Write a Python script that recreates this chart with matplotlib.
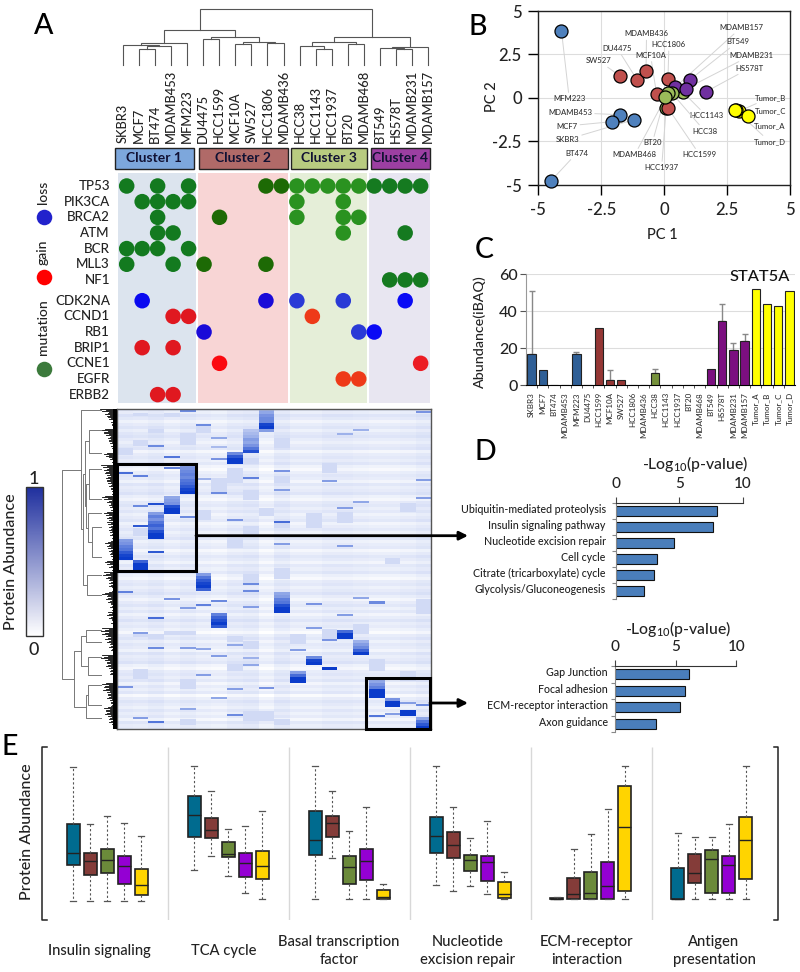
import numpy as np
import matplotlib
matplotlib.use('Agg')
import matplotlib.pyplot as plt
from matplotlib.colors import LinearSegmentedColormap
from matplotlib.cm import ScalarMappable
from matplotlib.patches import Rectangle

plt.rcParams['font.family'] = ['Lato', 'DejaVu Sans']
plt.rcParams['font.weight'] = 'medium'
plt.rcParams['mathtext.default'] = 'regular'

W, H = 800, 972
TXT = '#222222'

# panel A
cell_lines = ['SKBR3', 'MCF7', 'BT474', 'MDAMB453', 'MFM223', 'DU4475', 'HCC1599', 'MCF10A', 'SW527', 'HCC1806',
              'MDAMB436', 'HCC38', 'HCC1143', 'HCC1937', 'BT20', 'MDAMB468', 'BT549', 'HS578T', 'MDAMB231', 'MDAMB157']
cluster_names = ['Cluster 1', 'Cluster 2', 'Cluster 3', 'Cluster 4']
cluster_of_col = [0] * 5 + [1] * 6 + [2] * 5 + [3] * 4
mutation_genes = ['TP53', 'PIK3CA', 'BRCA2', 'ATM', 'BCR', 'MLL3', 'NF1']
cna_genes = ['CDK2NA', 'CCND1', 'RB1', 'BRIP1', 'CCNE1', 'EGFR', 'ERBB2']
mutated_cols = [[0, 2, 4, 9, 10, 11, 12, 13, 14, 15, 16, 17, 18, 19],
                [1, 2, 3, 4, 11, 14],
                [2, 6, 11, 14, 15],
                [2, 3, 14, 18],
                [0, 1, 2, 4],
                [0, 3, 5, 9],
                [17, 18, 19]]
cna_cols = [[1, 9, 11, 14, 18], [3, 4, 12], [5, 15, 16], [1, 3], [6, 19], [14, 15], [2, 3]]
cna_kind = ['loss', 'gain', 'loss', 'gain', 'gain', 'gain', 'gain']

# top dendrogram: (height, left, right), a plain int is a leaf
top_tree = (167,
            (105,
             (65, (59, 0, (56, (47, 1, 2), 3)), 4),
             (83, (77, 5, 6), (68, (63, 7, 8), (65, 9, 10)))),
            (85,
             (68, (56, 11, (49, 12, 13)), (62, 14, 15)),
             (55, (51, 16, (49, 17, 18)), 19)))

# left dendrogram, leaves are heatmap rows
side_upper = (36.5, 1, (34, (32.5, (28, 21, 44), (31, (28, 60, 90), (29, 104, (25, 118, 148)))), (30, 166, 186)))
side_lower = (43, (36, (31, 221, 233), (29, 248, 266)), (31.5, (29, 276, 296), 309))
side_tree = (55, side_upper, side_lower)
comb_depth = [17, 13, 9, 6, 5, 16, 13, 10, 8, 6, 4, 14, 8, 5, 16, 14, 12, 12, 10, 8, 6, 5, 15, 11, 8, 6,
              13, 11, 10, 9, 8, 7, 5, 13, 10, 9, 7, 5, 12, 8, 5, 15, 11, 9, 8, 5, 15, 12, 9, 7, 5, 11, 8, 6, 4,
              17, 15, 13, 10, 8, 6, 5, 16, 14, 11, 9, 7, 5, 4, 17, 14, 12, 10, 8, 6, 15, 12, 10, 8, 6, 4]
comb_feather = [1, .62, .86, .5, .72, .94, .56, .8]

# heatmap, one row per pixel line of the picture
heat_base = [.12, .09, .14, .11, .06, .10, .13, .08, .12, .14, .10, .07, .11, .13, .05, .10, .12, .09, .13, .07,
             .04, .09, .12, .10, .06, .13, .09, .11, .14, .08, .05, .11, .13, .09, .12, .07, .10, .13, .06, .09,
             .12, .08, .11, .14, .07, .10, .12, .05, .09, .13, .10, .06, .12, .09, .13, .07, .04, .10, .12, .08,
             .11, .14, .09, .05, .10, .13, .08, .12, .06, .10, .14, .09, .11, .07, .03, .10, .13, .08, .12, .10,
             .06, .13, .09, .11, .14, .07, .04, .10, .12, .09, .13, .06, .11, .08, .12, .03, .09, .13, .10, .07,
             .12, .08, .11, .05, .13, .09, .10]
col_tint = [.01, .0, .02, -.01, .01, -.01, -.02, .01, .02, -.03, .02, -.01, -.01, .01, .01, .0, -.01, -.01, .0, .02]
heat_soft = [(1, 5, 8), (3, 5, 9), (2, 21, 25), (4, 25, 37), (1, 32, 38), (0, 42, 47), (5, 18, 25), (7, 60, 75),
             (8, 82, 92), (10, 30, 40), (10, 68, 75), (5, 102, 112), (10, 113, 120), (12, 105, 120), (14, 104, 115),
             (8, 118, 128), (1, 120, 128), (10, 160, 170), (8, 165, 175), (19, 190, 205), (4, 222, 226), (1, 224, 228),
             (3, 222, 226), (7, 227, 233), (8, 232, 240), (11, 225, 235), (13, 220, 232), (15, 215, 225), (2, 225, 230),
             (1, 260, 270), (4, 270, 280), (8, 302, 312), (9, 302, 312), (10, 310, 316), (4, 310, 316), (18, 262, 272),
             (0, 40, 46), (6, 70, 85), (3, 90, 96), (13, 55, 65), (18, 95, 104), (16, 250, 262), (7, 255, 262),
             (9, 100, 108), (7, 130, 140), (8, 50, 56), (17, 150, 156)]
heat_streak = [(4, 2, .6), (5, 16, .6), (0, 64, .75), (1, 67, .65), (3, 59, .65), (10, 62, .55), (8, 69, .65),
               (13, 72, .5), (5, 70, .4), (6, 84, .6), (10, 81, .5), (1, 97, .6), (2, 95, .9), (4, 108, .6),
               (1, 117, .85), (7, 111, .55), (10, 113, .75), (2, 143, .85), (10, 135, .5), (14, 137, .5), (3, 48, .7),
               (6, 50, .55), (2, 37, .6), (6, 29, .45), (19, 3, .55), (19, 71, .5), (19, 89, .5), (14, 99, .5),
               (15, 93, .45), (0, 182, .65), (8, 174, .6), (8, 181, .6), (3, 189, .55), (6, 191, .6), (5, 195, .65),
               (8, 197, .5), (16, 193, .6), (15, 188, .45), (2, 208, .75), (12, 218, .5), (2, 238, .6), (4, 238, .5),
               (5, 239, .45), (7, 235, .45), (13, 230, .55), (6, 246, .5), (5, 265, .5), (0, 277, .55), (1, 223, .5),
               (11, 240, .5), (8, 248, .4), (8, 255, .45), (7, 279, .5), (9, 278, .55), (6, 288, .45), (4, 299, .45),
               (7, 305, .6), (1, 308, .5), (2, 312, .7), (16, 306, .7), (17, 304, .5), (16, 192, .6), (4, 198, .5),
               (12, 194, .55), (14, 205, .5), (19, 295, .6), (18, 293, .5), (6, 38, .35), (14, 25, .4), (15, 21, .4)]
# (column, first row, levels going down, each level 3 rows)
heat_blocks = [(9, 0, [.35, .45, .55, .6, .6, .95, 1, .5]),
               (8, 21, [.3, .35, .4, .5, .45, .55, .7, .9]),
               (7, 44, [.6, .85, 1, 1]),
               (4, 56, [.5, .55, .6, .65, .6, .7, .75, .85, .95, 1]),
               (3, 88, [.45, .5, .55, .9, 1, 1]),
               (2, 104, [.5, .65, .55, .7, .8, .7, .9, 1, 1]),
               (0, 131, [.5, .55, .65, .7, .85, .95, 1]),
               (1, 152, [.8, 1, 1]),
               (5, 164, [.5, .7, .85, .95, 1, .8]),
               (10, 183, [.45, .5, .65, .7, .9, 1, 1]),
               (6, 204, [.65, .8, .9, 1, .85]),
               (14, 221, [.75, 1, 1]),
               (15, 231, [.4, .5, .6, .8, 1]),
               (12, 247, [.6, .95, 1]),
               (13, 258, [1]),
               (11, 262, [.5, .75, 1, 1]),
               (16, 271, [.45, .55, .65, 1, 1, 1]),
               (17, 289, [.55, 1, 1]),
               (18, 301, [1, 1]),
               (19, 308, [.45, .7, .85, 1])]

# panel B
pc_names = ['MFM223', 'BT474', 'MDAMB453', 'MCF7', 'SKBR3',
            'HCC1937', 'SW527', 'DU4475', 'MDAMB436', 'HCC1806', 'MCF10A', 'HCC1599',
            'HCC1143', 'MDAMB157', 'BT549', 'MDAMB231', 'HS578T', 'HCC38', 'MDAMB468', 'BT20',
            'Tumor_B', 'Tumor_D', 'Tumor_C', 'Tumor_A']
pc1 = [-4.08, -4.5, -1.74, -2.07, -1.21, 0.08, -1.74, -1.07, -0.72, 0.15, -0.3, 0.16, 0.73, 0.43, 1.01, 0.85, 1.66,
       0.3, 0.15, 0.03, 2.96, 2.84, 2.81, 3.33]
pc2 = [3.87, -4.77, -0.96, -1.36, -1.25, -0.6, 1.25, 1.03, 1.57, 1.09, 0.23, -0.59, 0.36, 0.61, 1.03, 0.52, 0.36,
       0.3, 0.27, 0.06, -0.77, -0.7, -0.69, -1.05]
pc_group = [0, 0, 0, 0, 0, 2, 1, 1, 1, 1, 1, 1, 2, 3, 3, 3, 3, 2, 2, 2, 4, 4, 4, 4]
pc_colors = ['#4f81bd', '#c0504d', '#9bbb59', '#7030a0', '#ffff00']
label_x = {'MDAMB157': 3.05, 'BT549': 2.91, 'MDAMB231': 3.45, 'HS578T': 3.4, 'MDAMB436': -0.7, 'HCC1806': 0.19,
           'DU4475': -1.86, 'MCF10A': -0.54, 'SW527': -2.59, 'Tumor_B': 4.22, 'Tumor_C': 4.22, 'Tumor_A': 4.18,
           'Tumor_D': 4.19, 'MFM223': -3.77, 'MDAMB453': -3.74, 'MCF7': -3.87, 'SKBR3': -3.85, 'BT474': -3.48,
           'HCC1143': 1.68, 'HCC38': 1.61, 'BT20': -0.47, 'MDAMB468': -1.17, 'HCC1599': 1.41, 'HCC1937': -0.1}
label_y = {'MDAMB157': 4.04, 'BT549': 3.22, 'MDAMB231': 2.45, 'HS578T': 1.72, 'MDAMB436': 3.68, 'HCC1806': 3.06,
           'DU4475': 2.85, 'MCF10A': 2.45, 'SW527': 2.13, 'Tumor_B': 0.04, 'Tumor_C': -0.73, 'Tumor_A': -1.59,
           'Tumor_D': -2.51, 'MFM223': -0.04, 'MDAMB453': -0.84, 'MCF7': -1.61, 'SKBR3': -2.38, 'BT474': -3.18,
           'HCC1143': -1.02, 'HCC38': -1.9, 'BT20': -2.57, 'MDAMB468': -3.26, 'HCC1599': -3.26, 'HCC1937': -4.0}

# panel C
stat_names = ['SKBR3', 'MCF7', 'BT474', 'MDAMB453', 'MFM223', 'DU4475', 'HCC1599', 'MCF10A', 'SW527', 'HCC1806',
              'MDAMB436', 'HCC38', 'HCC1143', 'HCC1937', 'BT20', 'MDAMB468', 'BT549', 'HS578T', 'MDAMB231', 'MDAMB157',
              'Tumor_A', 'Tumor_B', 'Tumor_C', 'Tumor_D']
stat_vals = [17, 8.2, 0, 0, 17, 0, 31, 2.7, 3, 0, 0, 6.5, 0, 0, 0, 0.3, 8.7, 35, 19, 24, 52, 44, 43, 51]
stat_errs = [34, 0, 0, 0, 1, 0, 0, 5.3, 0, 0, 0, 2.2, 0, 0, 0, 0, 0, 9, 3.7, 3.5, 0, 0, 0, 0]
stat_colors = ['#2f5f96'] * 5 + ['#953735'] * 6 + ['#76923c'] * 5 + ['#7b0f80'] * 4 + ['#ffff00'] * 4

# panel D
path1_names = ['Ubiquitin-mediated proteolysis', 'Insulin signaling pathway', 'Nucleotide excision repair',
               'Cell cycle', 'Citrate (tricarboxylate) cycle', 'Glycolysis/Gluconeogenesis']
path1_vals = [7.93, 7.67, 4.55, 3.22, 2.98, 2.23]
path2_names = ['Gap Junction', 'Focal adhesion', 'ECM-receptor interaction', 'Axon guidance']
path2_vals = [6.09, 5.79, 5.32, 3.4]

# panel E: whisker low, q1, median, q3, whisker high
box_titles = ['Insulin signaling', 'TCA cycle', 'Basal transcription\nfactor', 'Nucleotide\nexcision repair',
              'ECM-receptor\ninteraction', 'Antigen\npresentation']
box_colors = ['#006b8f', '#843c39', '#6b8a3a', '#9400d3', '#ffd400']
insulin_box = [[-.5, 26.5, 35.5, 57, 99.5], [-.5, 19, 29, 35.5, 57.25], [-.5, 20, 29.75, 38.25, 62.75],
               [-.5, 12, 25.25, 32.75, 58], [-.5, 4, 11, 23, 48]]
tca_box = [[22.5, 47.5, 64, 78.25, 100.5], [32.75, 46.5, 52.25, 61.75, 81.5], [17.75, 32, 34.75, 43.5, 53],
           [5, 17.5, 27.75, 35.25, 55.75], [.5, 16, 25.25, 36.75, 66.5]]
basal_box = [[.5, 34, 45.25, 66.5, 100.5], [31.5, 47, 57.5, 63.25, 81.75], [.5, 12, 24.5, 32.75, 51.75],
             [.5, 15.25, 29.25, 38, 70], [.5, .5, 2.5, 7.25, 11.75]]
ner_box = [[11.25, 35.25, 47.75, 62, 100.5], [6.5, 31.75, 41.25, 50.75, 69.5], [10.5, 21.75, 29.75, 33.75, 46.25],
           [4.75, 14.5, 28.75, 33, 59], [.5, 1.5, 4.75, 13.75, 20.75]]
ecm_box = [[.5, .5, 1, 1.75, 2.5], [.5, .75, 4.75, 16.25, 38], [.5, .5, 5, 21.25, 49.5],
           [.75, 1, 10.5, 28.25, 68.25], [.5, 7, 55, 85.5, 100.5]]
antigen_box = [[.5, 1, 1, 24, 50], [.5, 13, 20, 34.5, 47.25], [.5, 5.5, 30.5, 37.25, 47],
               [.5, 5.25, 26.5, 33, 56.75], [.5, 15.5, 44.75, 62.5, 100.5]]
all_boxes = [insulin_box, tca_box, basal_box, ner_box, ecm_box, antigen_box]


def px_axes(left, top, right, bottom, **kw):
    return fig.add_axes([left / W, 1 - bottom / H, (right - left) / W, (bottom - top) / H], **kw)


def draw_top(ax, node):
    if isinstance(node, int):
        return node, 0
    h, a, b = node
    xa, ya = draw_top(ax, a)
    xb, yb = draw_top(ax, b)
    ax.plot([xa, xa, xb, xb], [ya, h, h, yb], color='#555555', lw=0.8, solid_joinstyle='miter', clip_on=False)
    return (xa + xb) / 2, h


def draw_side(ax, node):
    if isinstance(node, int):
        return 16, node
    h, a, b = node
    xa, ya = draw_side(ax, a)
    xb, yb = draw_side(ax, b)
    ax.plot([xa, h, h, xb], [ya, ya, yb, yb], color='#777777', lw=0.7, clip_on=False)
    return h, (ya + yb) / 2


fig = plt.figure(figsize=(W / 100, H / 100), dpi=100)

# everything that sits on picture coordinates goes here
ov = px_axes(0, 0, W, H)
ov.set_xlim(0, W)
ov.set_ylim(H, 0)
ov.axis('off')
ov.set_zorder(5)

for letter, x, y in [('A', 44, 26), ('B', 478, 27), ('C', 484, 250), ('D', 485, 452), ('E', 10, 747)]:
    ov.text(x, y, letter, fontsize=20.5, ha='center', va='center', color='black')

# panel A dendrogram and labels
ax = px_axes(123, 9.3, 428, 65)
ax.set_xlim(0, 19)
ax.set_ylim(0, 167)
ax.axis('off')
draw_top(ax, top_tree)
for i, name in enumerate(cell_lines):
    ov.text(123 + i * 16.05, 143, name, rotation=90, ha='center', va='bottom', fontsize=9.3, color=TXT)

headers = [(114.5, 193.5, '#7da7dc'), (198.5, 287.5, '#b06a68'), (290.5, 366.5, '#b8cb80'), (371, 429.5, '#9c3fa2')]
for (l, r, c), name in zip(headers, cluster_names):
    ov.add_patch(Rectangle((l, 148), r - l, 21, fc=c, ec='#222222', lw=1))
    ov.text((l + r) / 2, 158.5, name, ha='center', va='center', fontsize=10, fontweight='bold', color='#111133')

# mutation matrix
ax = px_axes(118, 173, 430, 403)
col_lim = ((118 - 126.7) / 15.47, (430 - 126.7) / 15.47)
ax.set_xlim(col_lim)
ax.set_ylim((403 - 186) / 15.65, (173 - 186) / 15.65)
ax.axis('off')
for (a, b), c in zip([(-0.56, 4.48), (4.6, 10.4), (10.55, 15.53), (15.65, 19.6)],
                     ['#dce4ee', '#f8d5d5', '#e5eed8', '#e8e6f1']):
    ax.axvspan(a, b, color=c, lw=0)
mut_c = ['#137a1f', '#1d6a05', '#2a9220', '#157a20']
loss_c = ['#0a0af0', '#1a0ad8', '#2a3ad6', '#0a0af5']
gain_c = ['#e01820', '#fb0a10', '#ee3a18', '#ec1c24']
for r, cols in enumerate(mutated_cols):
    ax.scatter(cols, [r] * len(cols), s=125, c=[mut_c[cluster_of_col[k]] for k in cols], lw=0, clip_on=False)
    ov.text(110, 186 + 15.65 * r, mutation_genes[r], ha='right', va='center', fontsize=9.6, color=TXT)
for r, cols in enumerate(cna_cols):
    pal = loss_c if cna_kind[r] == 'loss' else gain_c
    ax.scatter(cols, [r + 7.33] * len(cols), s=125, c=[pal[cluster_of_col[k]] for k in cols], lw=0, clip_on=False)
    ov.text(110, 186 + 15.65 * (r + 7.33), cna_genes[r], ha='right', va='center', fontsize=9.6, color=TXT)

for y, c, name, ty in [(217, '#2222cc', 'loss', 192.5), (277, '#ff0000', 'gain', 252.5), (369, '#3c7a3c', 'mutation', 327.5)]:
    ov.scatter([43.5], [y], s=125, c=c, lw=0)
    ov.text(43, ty, name, rotation=90, ha='center', va='center', fontsize=10, color=TXT)

# heatmap
heat = np.zeros((321, 20))
for k, lev in enumerate(heat_base):
    heat[k * 3:(k + 1) * 3, :] = lev
heat = np.clip(heat + np.array(col_tint), 0, 1)
for col, r0, r1 in heat_soft:
    heat[r0:r1, col] = .19
for col, r, lev in heat_streak:
    heat[r:r + 2, col] = lev
for col, r, levels in heat_blocks:
    for k, lev in enumerate(levels):
        heat[r + k * 3:r + (k + 1) * 3, col] = lev
heat_cmap = LinearSegmentedColormap.from_list('heat', ['#ffffff', '#0b3ccb'])
ax = px_axes(117, 409, 431, 729)
ax.imshow(heat[:320], cmap=heat_cmap, vmin=0, vmax=1, aspect='auto', interpolation='nearest', extent=(0, 20, 320, 0))
ax.set_xticks([])
ax.set_yticks([])
for s in ax.spines.values():
    s.set_color('#555555')
    s.set_linewidth(1)

ax = px_axes(61, 409, 117, 729)
ax.set_xlim(56, 0)
ax.set_ylim(320, 0)
ax.axis('off')
# leaf lines of the tree, one per row, solid near the heatmap and feathered further out
comb_step = 320 / len(comb_depth)
for r in range(320):
    depth = comb_depth[int(r / comb_step)] * comb_feather[r % len(comb_feather)]
    ax.plot([0, depth], [r + 0.5, r + 0.5], color='black', lw=0.6)
ax.axvspan(0, 4.5, color='black', lw=0)
draw_side(ax, side_tree)

# boxes and arrows over the heatmap
ov.add_patch(Rectangle((117, 464), 79, 107, fill=False, ec='black', lw=2.2))
ov.add_patch(Rectangle((366, 677.7), 64, 51, fill=False, ec='black', lw=2.2))
for x0, y in [(196, 535.7), (430, 703)]:
    ov.annotate('', xy=(468, y), xytext=(x0, y),
                arrowprops=dict(arrowstyle='-|>,head_length=0.5,head_width=0.25', color='black', lw=2, shrinkA=0, shrinkB=0))

# colorbar
cax = px_axes(25.7, 487, 42.7, 636)
bar_cmap = LinearSegmentedColormap.from_list('bar', ['#ffffff', '#1f2f9e'])
cb = fig.colorbar(ScalarMappable(plt.Normalize(0, 1), bar_cmap), cax=cax, ticks=[])
cb.outline.set_edgecolor('#333333')
cb.outline.set_linewidth(1)
ov.text(34, 479, '1', ha='center', va='center', fontsize=13, color=TXT)
ov.text(34, 650, '0', ha='center', va='center', fontsize=13, color=TXT)
ov.text(11, 562, 'Protein Abundance', rotation=90, ha='center', va='center', fontsize=11.6, color=TXT)

# panel B
ax = px_axes(538.3, 11, 790, 185)
ax.set_xlim(-5, 5)
ax.set_ylim(-5, 5)
pc_ticks = [-5, -2.5, 0, 2.5, 5]
pc_tick_labels = ['-5', '-2.5', '0', '2.5', '5']
ax.set_xticks(pc_ticks, pc_tick_labels)
ax.set_yticks(pc_ticks, pc_tick_labels)
ax.tick_params(labelsize=12, length=7, width=1, pad=5, labelcolor=TXT)
ax.grid(color='#dddddd', lw=0.8)
ax.set_axisbelow(True)
for s in ax.spines.values():
    s.set_linewidth(1)
    s.set_color('#222222')
for i, name in enumerate(pc_names):
    ax.annotate(name, xy=(pc1[i], pc2[i]), xytext=(label_x[name], label_y[name]), fontsize=5.6, ha='center',
                va='center', color='#333333', annotation_clip=False,
                arrowprops=dict(arrowstyle='-', color='#d4d4d4', lw=0.7, shrinkA=0, shrinkB=0))
for i in range(len(pc_names)):
    ax.scatter(pc1[i], pc2[i], s=88, c=pc_colors[pc_group[i]], edgecolors='black', linewidths=0.9, zorder=3 + i * 0.01,
               clip_on=False)
ov.text(662, 235, 'PC 1', ha='center', va='center', fontsize=10.5, color=TXT)
ov.text(492, 97, 'PC 2', rotation=90, ha='center', va='center', fontsize=10.5, color=TXT)

# panel C
ax = px_axes(526, 274.3, 795, 385.3)
pos = np.arange(len(stat_names))
ax.bar(pos, stat_vals, width=0.74, color=stat_colors, edgecolor='#222222', linewidth=0.8, zorder=3)
for i in pos:
    if stat_errs[i] > 0:
        ax.errorbar(i, stat_vals[i], yerr=[[0], [stat_errs[i]]], color='#888888', lw=1, capsize=2.5, zorder=2)
ax.set_xlim(-0.5, 23.5)
ax.set_ylim(0, 60)
ax.set_yticks([0, 20, 40, 60])
ax.tick_params(axis='y', labelsize=11.5, length=4, pad=2, labelcolor=TXT, color='#555555')
ax.set_xticks(pos, stat_names, rotation=90, fontsize=5.8, color='#333333')
ax.tick_params(axis='x', length=0, pad=5)
ax.set_xticks(pos[:-1] + 0.5, minor=True)
ax.tick_params(axis='x', which='minor', length=2.5, color='#333333')
ax.grid(axis='y', color='#dddddd', lw=0.8)
ax.set_axisbelow(True)
ax.spines['top'].set_visible(False)
ax.spines['right'].set_visible(False)
ax.spines['left'].set_color('#999999')
ov.text(760, 277, 'STAT5A', ha='center', va='center', fontsize=11.8, color='#111111')
ov.text(480, 332, 'Abundance(iBAQ)', rotation=90, ha='center', va='center', fontsize=10.3, color=TXT)

# panel D
for names, vals, box, lab_x, title_xy in [(path1_names, path1_vals, (615.7, 503.3, 743, 599.3), 605.7, (695, 464)),
                                          (path2_names, path2_vals, (615.3, 666, 736.3, 732), 607.7, (678, 629))]:
    ax = px_axes(*box)
    n = len(names)
    ax.barh(range(n), vals, height=0.63, color='#4a7ebb', edgecolor='#111111', linewidth=0.8)
    ax.set_xlim(0, 10)
    ax.set_ylim(n - 0.5, -0.5)
    ax.xaxis.tick_top()
    ax.set_xticks([0, 5, 10])
    ax.tick_params(axis='x', labelsize=11, length=4, pad=5, labelcolor=TXT, color='#444444')
    ax.set_yticks(np.arange(n + 1) - 0.5, [])
    ax.tick_params(axis='y', length=3, color='#888888')
    ax.spines['bottom'].set_visible(False)
    ax.spines['right'].set_visible(False)
    ax.spines['left'].set_color('#888888')
    ax.spines['top'].set_color('#333333')
    for i, name in enumerate(names):
        top, bottom = box[1], box[3]
        ov.text(lab_x, top + (i + 0.4) * (bottom - top) / n, name, ha='right', va='center', fontsize=7.7, color=TXT)
    ov.text(title_xy[0], title_xy[1], '-Log$_{10}$(p-value)', ha='center', va='center', fontsize=11.3, color=TXT)

# panel E
ax = px_axes(0, 746.7, 800, 920)
ax.set_xlim(0, 800)
ax.set_ylim(-15, 115)
ax.axis('off')
group_starts = [73.3, 194.3, 315.3, 436, 556.7, 677.7]
for g, group in enumerate(all_boxes):
    stats = [dict(whislo=b[0], q1=b[1], med=b[2], q3=b[3], whishi=b[4], fliers=[]) for b in group]
    where = [group_starts[g] + 17 * k for k in range(5)]
    parts = ax.bxp(stats, positions=where, widths=13, patch_artist=True, showfliers=False, manage_ticks=False,
                   whiskerprops=dict(color='#555555', lw=0.8, ls=(0, (2, 2))),
                   capprops=dict(color='#555555', lw=0.9),
                   medianprops=dict(color='#222222', lw=1),
                   boxprops=dict(edgecolor='#222222', lw=1.2), capwidths=6)
    for patch, c in zip(parts['boxes'], box_colors):
        patch.set_facecolor(c)
ax.vlines([168.3, 288.7, 409.7, 530.7, 651.7], -15, 115, color='#d8d8d8', lw=1)

ov.plot([46.5, 42.3, 42.3, 46.5], [746.7, 746.7, 920, 920], color='#222222', lw=1.1)
ov.plot([773.5, 777.7, 777.7, 773.5], [746.7, 746.7, 920, 920], color='#222222', lw=1.1)
ov.text(27, 832, 'Protein Abundance', rotation=90, ha='center', va='center', fontsize=11.6, color=TXT)
for name, x in zip(box_titles, [99, 223.5, 339, 468, 586.7, 714]):
    ov.text(x, 951, name, ha='center', va='center', fontsize=10.6, color=TXT, linespacing=1.35)

fig.savefig('out.png', dpi=100)
